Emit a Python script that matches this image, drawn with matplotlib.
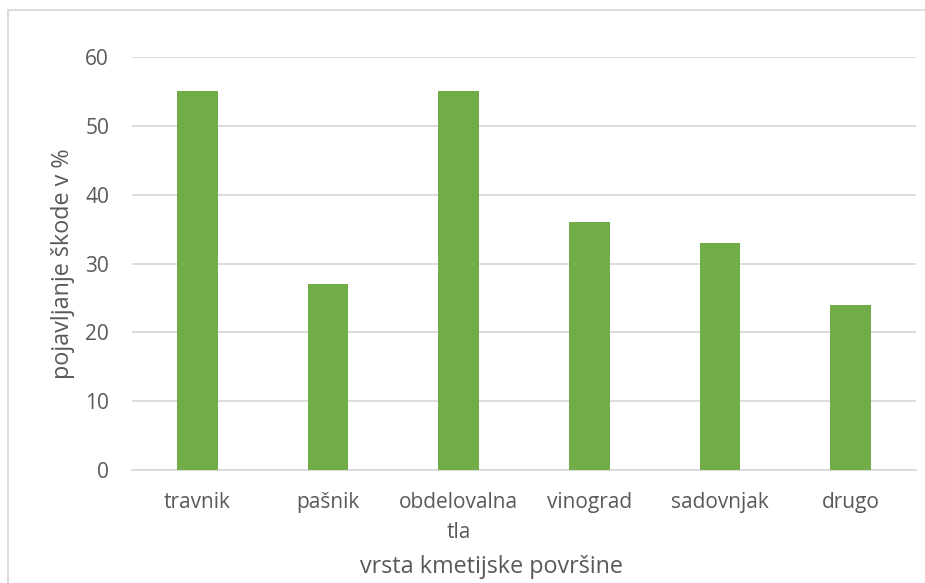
import matplotlib
matplotlib.use("Agg")
import matplotlib.pyplot as plt
from matplotlib.patches import Rectangle

categories = ["travnik", "pašnik", "obdelovalna\ntla", "vinograd", "sadovnjak", "drugo"]
values = [55, 27, 55, 36, 33, 24]
yticks = [0, 10, 20, 30, 40, 50, 60]

plt.rcParams['font.family'] = ['Open Sans', 'DejaVu Sans']
gray = '#595959'

fig = plt.figure(figsize=(9.25, 5.83), dpi=100)
ax = fig.add_axes([132/925, 1-470/583, (916-132)/925, (470-57)/583])

x = list(range(len(categories)))
ax.bar(x, values, width=0.31, color='#70AD47', zorder=3)
ax.set_xlim(-0.5, len(categories)-0.5)
ax.set_ylim(0, 60)
ax.set_yticks(yticks)
ax.set_yticklabels([str(t) for t in yticks])
ax.set_xticks(x)
ax.set_xticklabels(categories, linespacing=1.55)
ax.grid(axis='y', color='#D9D9D9', linewidth=1.3, zorder=0)
for s in ['top', 'right', 'left']:
    ax.spines[s].set_visible(False)
ax.spines['bottom'].set_color('#D9D9D9')
ax.spines['bottom'].set_linewidth(1.3)
ax.tick_params(axis='both', length=0, labelsize=15, colors=gray)
ax.tick_params(axis='y', pad=16.5)
ax.tick_params(axis='x', pad=16)
ax.set_xlabel("vrsta kmetijske površine", fontsize=16.8, color=gray, labelpad=8.5)
ax.xaxis.label.set_x(0.459)
ax.set_ylabel("pojavljanje škode v %", fontsize=16.8, color=gray, labelpad=7.5)

fig.patches.append(Rectangle((8/925, -0.1), 1.2, 1.1 - 10/583, transform=fig.transFigure,
                             fill=False, edgecolor='#D9D9D9', linewidth=1.3))

fig.savefig("out.png", dpi=100)
